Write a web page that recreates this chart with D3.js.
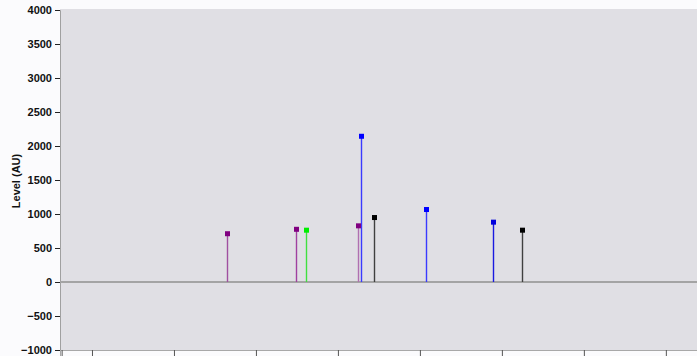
<!DOCTYPE html>
<html><head><meta charset="utf-8">
<script src="https://cdn.jsdelivr.net/npm/d3@7"></script>
<style>body{margin:0;background:#fbfbfd;}svg{display:block;}</style>
</head><body>
<script>
const yTicks = [4000,3500,3000,2500,2000,1500,1000,500,0,-500,-1000];
const xTicks = [-0.37,0,1,2,3,4,5,6,7];
const stemX = [1.646,2.488,2.61,3.244,3.277,3.435,4.073,4.894,5.244];
const stemY = [710,775,762,826,2143,948,1066,880,762];
const markColor = ["#800080","#800080","#00ee00","#800080","#0000ff","#000000","#0000ff","#0000dd","#000000"];
const stemColor = ["#a050a0","#a040a0","#40e040","#b070b0","#3a3aff","#404040","#3a3aff","#1a1ae0","#404040"];

const W=697,H=356;
const svg=d3.select("body").append("svg").attr("width",W).attr("height",H);
const L=60,T=10,B=350,R=697;
const x=d3.scaleLinear().domain([-0.39,7.38]).range([L,R]);
const y=d3.scaleLinear().domain([-1000,4000]).range([B,T]);

svg.append("rect").attr("x",L).attr("y",T-1).attr("width",R-L).attr("height",B-T+1).attr("fill","#e0dfe4");

// y axis
const ya=svg.append("g").attr("transform",`translate(${L},0)`)
 .call(d3.axisLeft(y).tickValues(yTicks).tickSize(5).tickPadding(3).tickFormat(d3.format("d")));
ya.select(".domain").attr("stroke","#a0a0a0");
ya.selectAll(".tick line").attr("stroke","#222");
ya.selectAll("text").attr("font-family","Liberation Sans, Arial, sans-serif").attr("font-size",11).attr("font-weight","bold").attr("fill","#111");

// x axis
const xa=svg.append("g").attr("transform",`translate(0,${B})`)
 .call(d3.axisBottom(x).tickValues(xTicks).tickSize(6).tickFormat(""));
xa.select(".domain").attr("stroke","#a8a8a8");
xa.selectAll(".tick line").attr("stroke","#555");

// zero line
svg.append("line").attr("x1",L).attr("x2",R).attr("y1",y(0)).attr("y2",y(0)).attr("stroke","#a4a4a4").attr("stroke-width",2);

// stems
const data=stemX.map((v,i)=>({x:v,y:stemY[i],m:markColor[i],s:stemColor[i]}));
svg.selectAll(".stem").data(data).enter().append("line")
 .attr("x1",d=>Math.round(x(d.x))+0.5).attr("x2",d=>Math.round(x(d.x))+0.5)
 .attr("y1",y(0)).attr("y2",d=>y(d.y)).attr("stroke",d=>d.s).attr("stroke-width",1.4);
svg.selectAll(".mk").data(data).enter().append("rect")
 .attr("x",d=>Math.round(x(d.x))-2).attr("y",d=>y(d.y)-2.5).attr("width",5).attr("height",5).attr("fill",d=>d.m);

svg.append("text").attr("transform",`translate(20,181) rotate(-90)`).attr("text-anchor","middle")
 .attr("font-family","Liberation Sans, Arial, sans-serif").attr("font-size",11).attr("font-weight","bold").attr("fill","#111").text("Level (AU)");
</script>
</body></html>
